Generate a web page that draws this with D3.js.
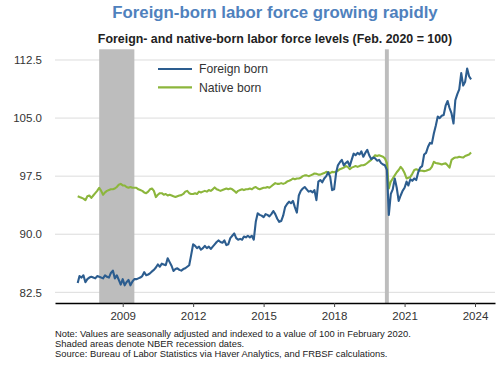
<!DOCTYPE html>
<html>
<head>
<meta charset="utf-8">
<script src="https://cdn.jsdelivr.net/npm/d3@7"></script>
<style>
  html, body { margin: 0; padding: 0; background: #fff; }
  svg { display: block; font-family: "Liberation Sans", Arial, sans-serif; }
</style>
</head>
<body>
<svg id="chart" width="500" height="365"></svg>
<script>
// ---- Data (monthly, Jan 2007 - Oct 2023; index Feb 2020 = 100) ----
const startYear = 2007;
const foreignBorn = [
  83.7, 84.6, 84.4, 84.7, 83.8, 84.2, 84.4, 84.5, 84.4, 84.3, 84.6, 84.5,
  84.4, 84.3, 84.7, 84.5, 84.4, 85.0, 85.3, 84.3, 84.7, 84.1, 83.5, 84.2,
  83.4, 83.8, 84.1, 83.4, 83.9, 84.2, 84.2, 84.3, 84.4, 84.6, 85.1, 84.7,
  84.8, 84.95, 85.2, 85.4, 85.7, 86.1, 85.8, 86.2, 86.1, 86.0, 86.9, 86.4,
  85.9, 85.25, 85.5, 85.6, 85.4, 85.3, 85.5, 85.6, 85.8, 86.0, 87.3, 88.7,
  88.5, 88.2, 88.4, 88.0, 88.2, 88.5, 88.2, 88.4, 88.1, 88.4, 88.7, 89.0,
  89.2, 89.0, 88.9, 89.2, 88.6, 88.7, 89.5, 89.8, 90.1, 89.5, 89.3, 89.4,
  89.3, 89.7, 89.6, 89.8, 89.6, 89.8, 89.3, 91.6, 92.7, 92.5, 92.4, 92.2,
  92.6, 92.5, 92.3, 92.6, 93.0, 92.6, 92.0, 91.6, 91.7, 92.4, 93.5, 93.9,
  94.2, 94.0, 94.3, 93.5, 92.8, 95.0, 95.6, 95.9, 96.1, 95.8, 95.5, 95.6,
  95.4, 95.7, 94.4, 96.8, 97.0, 96.7, 97.2, 97.5, 98.0, 97.4, 95.7, 95.8,
  97.9, 98.9, 99.3, 99.6, 98.9, 99.2, 99.4, 98.8, 99.6, 100.4, 100.2, 100.5,
  100.3, 100.7, 100.0, 100.5, 100.9, 100.2, 99.7, 99.9, 99.8, 99.5, 99.6, 99.2,
  99.0, 98.9, 98.3, 92.5, 95.2, 95.8, 97.2, 96.0, 94.3, 95.0, 95.6, 96.0,
  96.8, 96.3, 97.1, 96.9, 97.2, 97.0, 98.0, 98.6, 98.8, 100.3, 100.5, 101.3,
  101.8, 101.7, 103.0, 104.0, 105.2, 105.0, 105.3, 105.4, 106.6, 107.2, 106.3, 105.6,
  104.3, 107.3, 108.1, 108.7, 110.8, 109.2, 109.7, 111.4, 110.4, 110.0
];
const nativeBorn = [
  94.9, 94.8, 94.7, 94.6, 94.4, 94.9, 95.0, 94.7, 95.0, 95.3, 95.6, 96.0,
  95.6, 95.1, 95.4, 95.6, 95.7, 95.8, 95.8, 95.9, 96.1, 96.4, 96.5, 96.3,
  96.3, 96.1, 96.0, 96.1, 96.0, 96.0, 96.0, 95.8, 95.7, 95.6, 95.4, 95.3,
  95.5, 95.8, 95.9, 95.6, 94.8, 95.1, 95.3, 95.3, 95.1, 95.2, 95.0, 95.1,
  95.0, 94.9, 94.8, 94.9, 95.0, 95.05, 95.2, 95.5, 95.6, 95.3, 95.2, 95.2,
  95.3, 95.2, 95.5, 95.4, 95.5, 95.6, 95.5, 95.7, 95.6, 95.8, 96.05, 95.8,
  95.7, 95.6, 95.7, 95.8, 95.9, 95.8, 95.9, 95.8, 95.6, 95.35, 95.6, 95.7,
  95.8, 95.7, 95.8, 95.8, 95.9, 95.8, 96.0, 96.1, 95.9, 95.8, 95.9, 96.0,
  96.0, 96.1, 96.0, 96.2, 96.4, 96.6, 96.5, 96.5, 96.6, 96.5, 96.6, 96.8,
  96.9, 97.0, 97.2, 97.1, 97.2, 97.2, 97.3, 97.5, 97.6, 97.6, 97.5, 97.6,
  97.7, 97.85, 97.8, 97.7, 97.7, 97.8, 97.9, 98.05, 98.0, 97.9, 98.05, 98.0,
  98.1, 98.2, 98.4, 98.5, 98.6, 98.8, 98.7, 98.4, 98.6, 98.7, 98.8, 98.7,
  98.8, 98.9, 98.9, 99.0, 99.2, 99.4, 99.6, 99.9, 100.2, 100.1, 100.2, 100.1,
  100.0, 99.8, 99.2, 95.9, 96.8, 97.2, 97.6, 98.0, 98.3, 98.7, 98.4, 97.9,
  97.2, 97.3, 97.4, 97.8, 98.3, 98.4, 98.3, 98.2, 98.2, 98.15, 98.2, 98.3,
  98.4, 98.7, 99.35, 99.2, 99.15, 99.1, 99.0, 99.1, 99.15, 98.9, 98.6, 99.6,
  99.8, 99.9, 99.9, 100.0, 99.95, 99.9, 100.1, 100.2, 100.3, 100.55
];
const yTickValues = [82.5, 90.0, 97.5, 105.0, 112.5];
const xTickYears = [2009, 2012, 2015, 2018, 2021, 2024];
// NBER recessions [start year, start month (1-12), end year, end month]
const recessions = [[2007, 12, 2009, 6], [2020, 2, 2020, 4]];
const seriesNames = ["Foreign born", "Native born"];
const seriesColors = ["#2c5d8f", "#8cb63c"];
const titleText = "Foreign-born labor force growing rapidly";
const subtitleText = "Foreign- and native-born labor force levels (Feb. 2020 = 100)";
const notes = [
  "Note: Values are seasonally adjusted and indexed to a value of 100 in February 2020.",
  "Shaded areas denote NBER recession dates.",
  "Source: Bureau of Labor Statistics via Haver Analytics, and FRBSF calculations."
];

// monthly observation plotted at end of its month
const monthEnd = (y, m) => new Date(y, m, 1); // m is 1-based month -> first day of next month
const toPoints = arr => arr.map((v, i) => ({ date: monthEnd(startYear + Math.floor(i / 12), (i % 12) + 1), value: v }));
const series = [toPoints(foreignBorn), toPoints(nativeBorn)];

// ---- Layout ----
const svg = d3.select("#chart");
const plot = { left: 55, right: 495, top: 49.3, bottom: 303 };

const x = d3.scaleTime()
  .domain([new Date(2006, 1, 13), new Date(2024, 10, 7)])
  .range([plot.left, plot.right]);
const y = d3.scaleLinear()
  .domain([81.12, 113.88])
  .range([plot.bottom, plot.top]);

// Title & subtitle
svg.append("text")
  .attr("x", 275).attr("y", 17.5)
  .attr("text-anchor", "middle")
  .attr("font-size", 16.8).attr("font-weight", "bold")
  .attr("fill", "#4f81bd")
  .text(titleText);
svg.append("text")
  .attr("x", 275).attr("y", 43)
  .attr("text-anchor", "middle")
  .attr("font-size", 12.4).attr("font-weight", "bold")
  .attr("fill", "#222")
  .text(subtitleText);

// Gridlines
svg.append("g")
  .selectAll("line")
  .data(yTickValues)
  .join("line")
  .attr("x1", plot.left).attr("x2", plot.right)
  .attr("y1", d => y(d)).attr("y2", d => y(d))
  .attr("stroke", "#dcdcdc").attr("stroke-width", 1);

// Recession shading
svg.append("g")
  .selectAll("rect")
  .data(recessions)
  .join("rect")
  .attr("x", d => x(monthEnd(d[0], d[1])))
  .attr("width", d => x(monthEnd(d[2], d[3])) - x(monthEnd(d[0], d[1])))
  .attr("y", plot.top)
  .attr("height", plot.bottom - plot.top)
  .attr("fill", "#bdbdbd");

// Y axis labels
const yAxis = d3.axisLeft(y)
  .tickValues(yTickValues)
  .tickFormat(d3.format(".1f"))
  .tickSize(0)
  .tickPadding(0);
const gy = svg.append("g")
  .attr("transform", `translate(${42},0)`)
  .call(yAxis);
gy.select(".domain").remove();
gy.selectAll("text")
  .attr("font-size", 11.5)
  .attr("font-family", "Liberation Sans, Arial, sans-serif")
  .attr("fill", "#333");

// Lines
const line = d3.line()
  .x(d => x(d.date))
  .y(d => y(d.value));
svg.append("g")
  .selectAll("path")
  .data([series[1], series[0]])
  .join("path")
  .attr("d", line)
  .attr("fill", "none")
  .attr("stroke", (d, i) => i === 0 ? seriesColors[1] : seriesColors[0])
  .attr("stroke-width", 2.1)
  .attr("stroke-linejoin", "round");

// X axis
const xAxis = d3.axisBottom(x)
  .tickValues(xTickYears.map(yr => new Date(yr, 0, 1)))
  .tickFormat(d3.timeFormat("%Y"))
  .tickSize(4)
  .tickPadding(5)
  .tickSizeOuter(0);
const gx = svg.append("g")
  .attr("transform", `translate(0,${plot.bottom})`)
  .call(xAxis);
gx.select(".domain").attr("stroke", "#000").attr("stroke-width", 1.6);
gx.selectAll(".tick line").attr("stroke", "#444");
gx.selectAll("text")
  .attr("font-size", 11.5)
  .attr("font-family", "Liberation Sans, Arial, sans-serif")
  .attr("fill", "#333");

// Legend
const legend = svg.append("g");
seriesNames.forEach((name, i) => {
  const ly = 69 + i * 18.3;
  legend.append("line")
    .attr("x1", 158).attr("x2", 192)
    .attr("y1", ly).attr("y2", ly)
    .attr("stroke", seriesColors[i]).attr("stroke-width", 2.2);
  legend.append("text")
    .attr("x", 199).attr("y", ly + 4.3)
    .attr("font-size", 12.2)
    .attr("fill", "#333")
    .text(name);
});

// Notes
svg.append("g")
  .selectAll("text")
  .data(notes)
  .join("text")
  .attr("x", 55)
  .attr("y", (d, i) => 337 + i * 10)
  .attr("font-size", 9.4)
  .attr("fill", "#222")
  .text(d => d);
</script>
</body>
</html>
